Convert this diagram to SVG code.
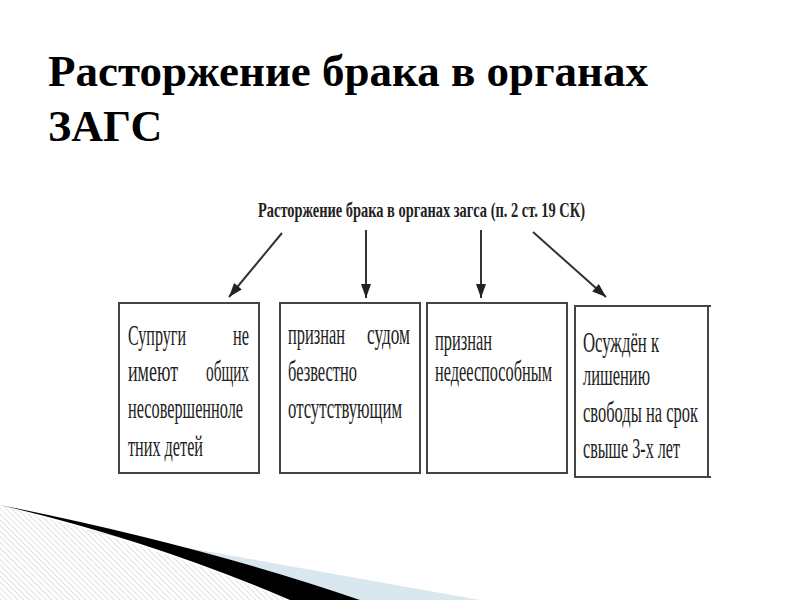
<svg xmlns="http://www.w3.org/2000/svg" width="800" height="600" viewBox="0 0 800 600">
<defs>
<style>
.title{font-family:'Liberation Serif','DejaVu Serif',serif;font-weight:bold;font-size:44px;fill:#000}
.head{font-family:'Liberation Serif','DejaVu Serif',serif;font-weight:bold;font-size:21px;fill:#222}
.t{font-family:'Liberation Serif','DejaVu Serif',serif;font-size:30px;fill:#222}
.box{fill:#fff;stroke:#444;stroke-width:2}
.arr{stroke:#333;stroke-width:2;fill:none}
</style>
<marker id="ah2" viewBox="0 0 14 10" refX="14" refY="5" markerWidth="15" markerHeight="10" markerUnits="userSpaceOnUse" orient="auto">
<path d="M0,0 L14,5 L0,10 Z" fill="#222"/>
</marker>
<pattern id="hatch" width="4" height="4" patternUnits="userSpaceOnUse" patternTransform="rotate(-45)">
<rect width="4" height="4" fill="#fff"/>
<line x1="0" y1="0" x2="0" y2="4" stroke="#d8d8d8" stroke-width="1.5"/>
</pattern>
</defs>
<rect width="800" height="600" fill="#fff"/>

<g id="decor">
<path d="M0,505 Q150,545 290,600 L0,600 Z" fill="url(#hatch)"/>
<path d="M87,530 L480,600 L360,600 Q220,555 87,531 Z" fill="#d9e8ef"/>
<path d="M0,505 Q200,545 360,600 L290,600 Q150,540 0,505 Z" fill="#000"/>
</g>

<g id="title">
<text class="title" x="48" y="86" textLength="600" lengthAdjust="spacingAndGlyphs">Расторжение брака в органах</text>
<text class="title" x="48" y="141">ЗАГС</text>
</g>

<g id="header">
<text class="head" x="258" y="217" textLength="327" lengthAdjust="spacingAndGlyphs">Расторжение брака в органах загса (п. 2 ст. 19 СК)</text>
</g>

<g id="connectors">
<line class="arr" x1="282" y1="233" x2="229" y2="297" marker-end="url(#ah2)"/>
<line class="arr" x1="366" y1="230" x2="366" y2="298" marker-end="url(#ah2)"/>
<line class="arr" x1="481" y1="230" x2="481" y2="298" marker-end="url(#ah2)"/>
<line class="arr" x1="533" y1="232" x2="606" y2="297" marker-end="url(#ah2)"/>
</g>

<g id="node1">
<rect class="box" x="119" y="303" width="140" height="170"/>
<text class="t" x="128" y="345" textLength="58" lengthAdjust="spacingAndGlyphs">Супруги</text>
<text class="t" x="233" y="345" textLength="16" lengthAdjust="spacingAndGlyphs">не</text>
<text class="t" x="128" y="381" textLength="50" lengthAdjust="spacingAndGlyphs">имеют</text>
<text class="t" x="206" y="381" textLength="43" lengthAdjust="spacingAndGlyphs">общих</text>
<text class="t" x="128" y="418" textLength="115" lengthAdjust="spacingAndGlyphs">несовершенноле</text>
<text class="t" x="128" y="456" textLength="75" lengthAdjust="spacingAndGlyphs">тних детей</text>
</g>

<g id="node2">
<rect class="box" x="280" y="303" width="140" height="170"/>
<text class="t" x="288" y="344" textLength="57" lengthAdjust="spacingAndGlyphs">признан</text>
<text class="t" x="367" y="344" textLength="43" lengthAdjust="spacingAndGlyphs">судом</text>
<text class="t" x="288" y="381" textLength="69" lengthAdjust="spacingAndGlyphs">безвестно</text>
<text class="t" x="288" y="418" textLength="114" lengthAdjust="spacingAndGlyphs">отсутствующим</text>
</g>

<g id="node3">
<rect class="box" x="427" y="303" width="140" height="170"/>
<text class="t" x="435" y="350" textLength="57" lengthAdjust="spacingAndGlyphs">признан</text>
<text class="t" x="435" y="381" textLength="117" lengthAdjust="spacingAndGlyphs">недееспособным</text>
</g>

<g id="node4">
<rect class="box" x="575" y="306" width="133" height="171"/>
<line x1="706" y1="306" x2="711" y2="306" stroke="#444" stroke-width="2"/>
<line x1="706" y1="477" x2="711" y2="477" stroke="#444" stroke-width="2"/>
<text class="t" x="583" y="352" textLength="76" lengthAdjust="spacingAndGlyphs">Осуждён к</text>
<text class="t" x="583" y="385" textLength="67" lengthAdjust="spacingAndGlyphs">лишению</text>
<text class="t" x="583" y="422" textLength="115" lengthAdjust="spacingAndGlyphs">свободы на срок</text>
<text class="t" x="583" y="458" textLength="97" lengthAdjust="spacingAndGlyphs">свыше 3-х лет</text>
</g>
</svg>
